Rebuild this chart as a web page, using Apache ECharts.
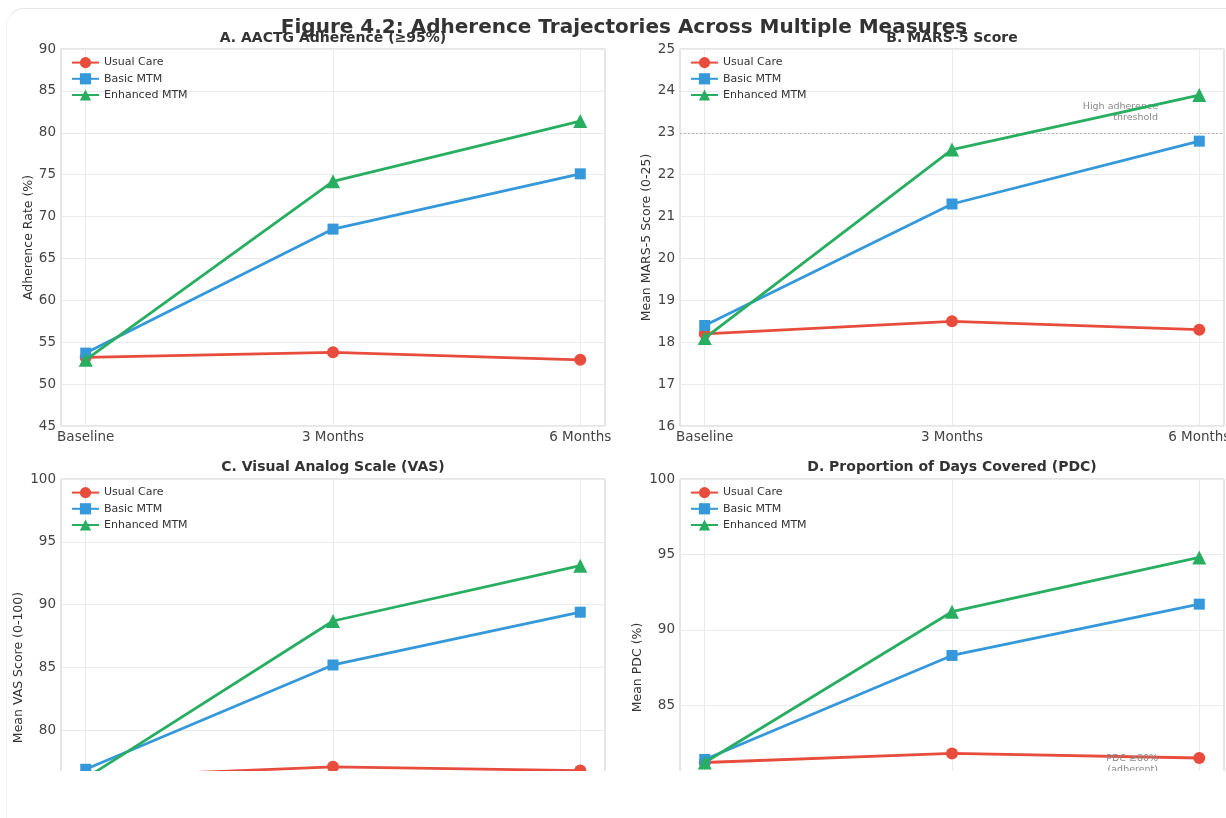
<!DOCTYPE html>
<html>
<head>
<meta charset="utf-8">
<script src="https://cdn.jsdelivr.net/npm/echarts@6/dist/echarts.min.js"></script>
<style>
  html, body { margin: 0; padding: 0; background: #ffffff; }
  #card { position: absolute; left: 6px; top: 8px; width: 1250px; height: 900px;
          border: 1px solid #e6e6e6; border-left-color: #f6f6f6; border-radius: 18px; }
  #wrap { position: absolute; left: 0; top: 0; width: 1226px; height: 771px; overflow: hidden; }
  #chart { width: 1226px; height: 900px; }
</style>
</head>
<body>
<div id="card"></div>
<div id="wrap"><div id="chart"></div></div>
<script>
// ---- data ----
const categories = ['Baseline', '3 Months', '6 Months'];
const seriesNames = ['Usual Care', 'Basic MTM', 'Enhanced MTM'];

const aactgUsual = [53.2, 53.8, 52.9];
const aactgBasic = [53.7, 68.5, 75.1];
const aactgEnhanced = [52.9, 74.2, 81.4];

const marsUsual = [18.2, 18.5, 18.3];
const marsBasic = [18.4, 21.3, 22.8];
const marsEnhanced = [18.1, 22.6, 23.9];

const vasUsual = [76.3, 77.1, 76.8];
const vasBasic = [76.9, 85.2, 89.4];
const vasEnhanced = [76.2, 88.7, 93.1];

const pdcUsual = [81.2, 81.8, 81.5];
const pdcBasic = [81.4, 88.3, 91.7];
const pdcEnhanced = [81.2, 91.2, 94.8];

const panelTitles = ['A. AACTG Adherence (\u226595%)', 'B. MARS-5 Score',
                     'C. Visual Analog Scale (VAS)', 'D. Proportion of Days Covered (PDC)'];
const yNames = ['Adherence Rate (%)', 'Mean MARS-5 Score (0-25)', 'Mean VAS Score (0-100)', 'Mean PDC (%)'];
const yMins = [45, 16, 70, 75];
const yMaxs = [90, 25, 100, 100];
const yIntervals = [5, 1, 5, 5];
const marsThreshold = 23;
const pdcThreshold = 80;
const mainTitle = 'Figure 4.2: Adherence Trajectories Across Multiple Measures';

// ---- styles ----
const colors = ['#e74c3c', '#3498db', '#27ae60'];
const symbols = ['circle', 'rect', 'triangle'];
const symbolSizes = [12, 11, 14];
const FONT = 'DejaVu Sans, Verdana, sans-serif';

const panelData = [
  [aactgUsual, aactgBasic, aactgEnhanced],
  [marsUsual, marsBasic, marsEnhanced],
  [vasUsual, vasBasic, vasEnhanced],
  [pdcUsual, pdcBasic, pdcEnhanced]
];

const gridPos = [
  { left: 61, top: 49 }, { left: 680, top: 49 },
  { left: 61, top: 479 }, { left: 680, top: 479 }
];
const gridW = 544, gridH = 377;
const nameGaps = [26, 27, 36, 36];

const grids = gridPos.map(p => ({
  left: p.left, top: p.top, width: gridW, height: gridH,
  containLabel: false, outerBoundsMode: 'none',
  show: true, borderColor: '#cccccc', borderWidth: 1, backgroundColor: 'transparent'
}));

const xAxes = gridPos.map((p, i) => ({
  type: 'value', gridIndex: i, min: -0.1, max: 2.1,
  axisLine: { show: false },
  axisTick: { show: false, customValues: [0, 1, 2] },
  axisLabel: { customValues: [0, 1, 2], formatter: v => categories[Math.round(v)],
               color: '#444', fontSize: 13.5, fontFamily: FONT, margin: 4, hideOverlap: false },
  splitLine: { show: true, lineStyle: { color: '#ebebeb', width: 1 } }
}));

const yAxes = gridPos.map((p, i) => ({
  type: 'value', gridIndex: i, min: yMins[i], max: yMaxs[i], interval: yIntervals[i],
  name: yNames[i], nameLocation: 'middle', nameRotate: 90, nameGap: nameGaps[i],
  nameTextStyle: { color: '#333', fontSize: 12.5, fontFamily: FONT },
  axisLine: { show: false }, axisTick: { show: false },
  axisLabel: { color: '#444', fontSize: 13.5, fontFamily: FONT, margin: 5 },
  splitLine: { show: true, lineStyle: { color: '#ebebeb', width: 1 } }
}));

const series = [];
panelData.forEach((sets, i) => {
  sets.forEach((vals, k) => {
    series.push({
      type: 'line', name: seriesNames[k], xAxisIndex: i, yAxisIndex: i,
      data: vals.map((v, j) => [j, v]),
      symbol: symbols[k], symbolSize: symbolSizes[k],
      lineStyle: { color: colors[k], width: 2.8 },
      itemStyle: { color: colors[k] },
      emphasis: { disabled: true }, animation: false, z: 3 + k
    });
  });
});

// threshold lines
series.push({
  type: 'line', name: 'mars-threshold', xAxisIndex: 1, yAxisIndex: 1, data: [],
  markLine: {
    silent: true, symbol: 'none', animation: false,
    lineStyle: { color: '#b8b8b8', type: [2, 2], width: 1 },
    label: { show: true, position: 'insideEndTop', distance: [66, 10],
             formatter: 'High adherence\nthreshold', color: '#8a8a8a', fontSize: 9.5,
             fontFamily: FONT, lineHeight: 11, align: 'right' },
    data: [{ yAxis: marsThreshold }]
  }
});
series.push({
  type: 'line', name: 'pdc-threshold', xAxisIndex: 3, yAxisIndex: 3, data: [],
  markLine: {
    silent: true, symbol: 'none', animation: false,
    lineStyle: { color: '#b8b8b8', type: [2, 2], width: 1 },
    label: { show: true, position: 'insideEndTop', distance: [66, 6],
             formatter: 'PDC \u226580%\n(adherent)', color: '#8a8a8a', fontSize: 9.5,
             fontFamily: FONT, lineHeight: 11, align: 'right' },
    data: [{ yAxis: pdcThreshold }]
  }
});

const legends = gridPos.map(p => ({
  data: seriesNames, orient: 'vertical', left: p.left + 10, top: p.top + 8,
  padding: 0, itemGap: 5, itemWidth: 27, itemHeight: 14,
  textStyle: { color: '#333', fontSize: 11, fontFamily: FONT },
  selectedMode: false
}));

const titleCenters = [[333, 38], [952, 38], [333, 467], [952, 467]];
const graphics = [{
  type: 'text', x: 624, y: 28, z: 100,
  style: { text: mainTitle, textAlign: 'center', textVerticalAlign: 'middle',
           font: 'bold 20px ' + FONT, fill: '#333' }
}];
titleCenters.forEach((c, i) => {
  graphics.push({
    type: 'text', x: c[0], y: c[1], z: 90,
    style: { text: panelTitles[i], textAlign: 'center', textVerticalAlign: 'middle',
             font: 'bold 14px ' + FONT, fill: '#333' }
  });
});

const chart = echarts.init(document.getElementById('chart'), null, { renderer: 'canvas' });
chart.setOption({
  backgroundColor: 'transparent',
  animation: false,
  grid: grids, xAxis: xAxes, yAxis: yAxes, legend: legends,
  series: series, graphic: graphics
});
</script>
</body>
</html>
